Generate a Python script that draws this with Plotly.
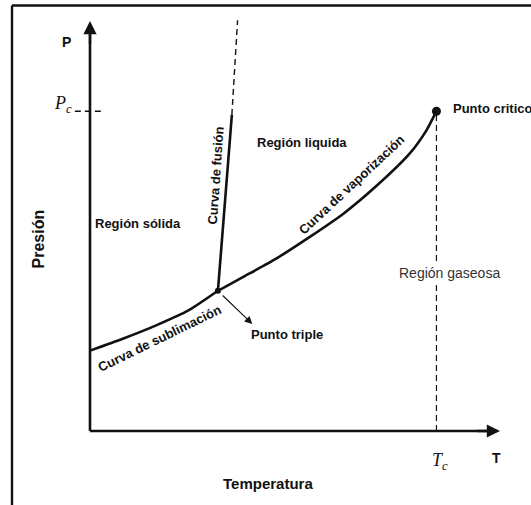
import plotly.graph_objects as go

# ---------------- data (arbitrary T / P units) ----------------
T_sub = [0.0, 8.0, 16.0, 24.0, 31.2]
P_sub = [19.6, 22.5, 25.7, 29.4, 34.2]

T_vap = [31.2, 37.4, 45.5, 53.7, 61.8, 69.9, 78.0, 82.1, 84.5]
P_vap = [34.2, 37.6, 42.1, 47.4, 53.0, 59.8, 67.7, 73.4, 78.0]

T_fus = [31.2, 34.6]
P_fus = [34.2, 77.1]
T_fus_ext = [34.6, 36.0]
P_fus_ext = [77.1, 100.2]

T_triple, P_triple = 31.2, 34.2
T_crit, P_crit = 84.5, 78.0
T_axis_max, P_axis_max = 100.0, 100.0

# ---------------- figure ----------------
SCALE = 4.1          # px per unit
OX, OY = 90, 431     # origin in px
W, H = 531, 505

FONT = "Liberation Sans, Arial, sans-serif"
SERIF = "Liberation Serif, Times New Roman, serif"
INK = "#111111"

fig = go.Figure()

line_style = dict(color=INK, width=2.6)
fig.add_trace(go.Scatter(x=T_sub, y=P_sub, mode="lines", line=dict(shape="spline", smoothing=0.6, **line_style)))
fig.add_trace(go.Scatter(x=T_vap, y=P_vap, mode="lines", line=dict(shape="spline", smoothing=0.6, **line_style)))
fig.add_trace(go.Scatter(x=T_fus, y=P_fus, mode="lines", line=line_style))
fig.add_trace(go.Scatter(x=T_fus_ext, y=P_fus_ext, mode="lines",
                         line=dict(color=INK, width=1.4, dash="6px,4px")))
# critical dashed guides
fig.add_trace(go.Scatter(x=[T_crit, T_crit], y=[0, P_crit], mode="lines",
                         line=dict(color=INK, width=1.2, dash="6px,4px")))
fig.add_trace(go.Scatter(x=[-3.7, 2.8], y=[P_crit, P_crit], mode="lines",
                         line=dict(color=INK, width=1.4, dash="6px,4px")))
# axes lines
fig.add_trace(go.Scatter(x=[0, 0], y=[0, P_axis_max - 1.5], mode="lines", line=dict(color=INK, width=2.6)))
fig.add_trace(go.Scatter(x=[0, T_axis_max - 1.5], y=[0, 0], mode="lines", line=dict(color=INK, width=2.6)))
# points
fig.add_trace(go.Scatter(x=[T_crit], y=[P_crit], mode="markers", marker=dict(color=INK, size=9)))
fig.add_trace(go.Scatter(x=[T_triple], y=[P_triple], mode="markers", marker=dict(color=INK, size=6)))

anns = []
# axis arrowheads
anns.append(dict(x=0, y=P_axis_max, ax=0, ay=P_axis_max - 6, xref="x", yref="y", axref="x", ayref="y",
                 text="", showarrow=True, arrowhead=2, arrowsize=1.1, arrowwidth=2.4, arrowcolor=INK))
anns.append(dict(x=T_axis_max, y=0, ax=T_axis_max - 6, ay=0, xref="x", yref="y", axref="x", ayref="y",
                 text="", showarrow=True, arrowhead=2, arrowsize=1.1, arrowwidth=2.4, arrowcolor=INK))
# triple point arrow
anns.append(dict(x=39.6, y=26.1, ax=T_triple + 0.8, ay=P_triple - 0.8, xref="x", yref="y", axref="x", ayref="y",
                 text="", showarrow=True, arrowhead=2, arrowsize=1.4, arrowwidth=1.1, arrowcolor=INK))


def lab(text, x, y, size=13, bold=True, angle=0, xanchor="center", yanchor="middle", family=FONT,
        color=INK, bg=None):
    t = f"<b>{text}</b>" if bold else text
    d = dict(x=x, y=y, xref="x", yref="y", text=t, showarrow=False, textangle=angle,
             xanchor=xanchor, yanchor=yanchor, font=dict(family=family, size=size, color=color))
    if bg:
        d["bgcolor"] = bg
    anns.append(d)


lab("P", -5.7, 94.9, size=14)
lab("T", 99.2, -6.6, size=14)
lab("<i>P</i><sub><i>c</i></sub>", -3.9, 79.6, size=18, bold=False, family=SERIF, xanchor="right")
lab("<i>T</i><sub><i>c</i></sub>", 83.0, -7.4, size=18, bold=False, family=SERIF, xanchor="left")
lab("Temperatura", 43.4, -12.7, size=15)
lab("Presión", -12.6, 46.8, size=16, angle=-90)
lab("Región sólida", 11.7, 50.5)
lab("Región liquida", 51.8, 70.3)
lab("Región gaseosa", 87.6, 38.5, size=14, bold=False, color="#333333", bg="white")
lab("Punto critico", 88.0, 78.7, xanchor="left")
lab("Punto triple", 48.0, 23.6)
lab("Curva de fusión", 30.6, 62.4, angle=-86)
lab("Curva de vaporización", 63.8, 60.2, angle=-43)
lab("Curva de sublimación", 16.9, 22.6, angle=-26)

shapes = [
    dict(type="line", xref="paper", yref="paper", x0=12 / W, x1=1.0, y0=1 - 5.5 / H, y1=1 - 5.5 / H,
         line=dict(color=INK, width=2.4)),
    dict(type="line", xref="paper", yref="paper", x0=12 / W, x1=12 / W, y0=0, y1=1 - 5.5 / H,
         line=dict(color=INK, width=2.4)),
]

fig.update_layout(
    width=W, height=H,
    margin=dict(l=0, r=0, t=0, b=0),
    paper_bgcolor="white", plot_bgcolor="white",
    showlegend=False,
    xaxis=dict(visible=False, range=[-OX / SCALE, (W - OX) / SCALE], fixedrange=True),
    yaxis=dict(visible=False, range=[-(H - OY) / SCALE, OY / SCALE], fixedrange=True),
    annotations=anns, shapes=shapes,
)

fig.write_html("out.html", config={"displayModeBar": False},
               post_script="document.body.style.margin='0px';document.body.style.overflow='hidden';")
